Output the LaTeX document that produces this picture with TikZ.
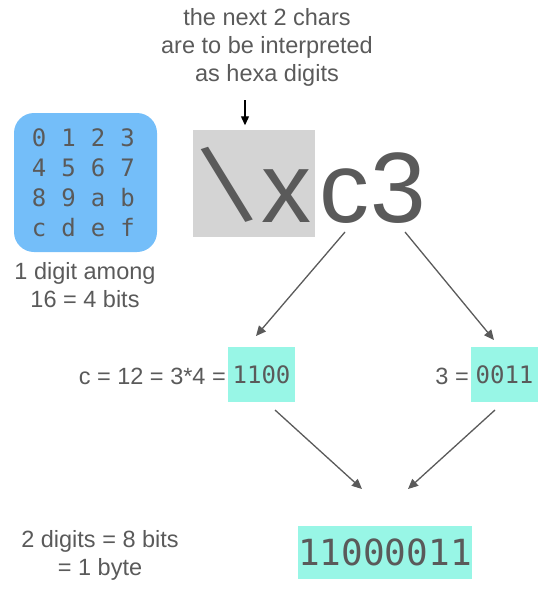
\documentclass[tikz,border=0pt]{standalone}
\usepackage{fontspec}
\setmainfont{Liberation Sans}
\newfontfamily\monof{DejaVu Sans Mono}
\usetikzlibrary{arrows.meta,positioning}
\definecolor{txt}{HTML}{5A5A5A}
\definecolor{bluebg}{HTML}{74BEF9}
\definecolor{aqua}{HTML}{98F6E6}
\definecolor{graybg}{HTML}{D4D4D4}
\tikzset{
  lbl/.style={text=txt, font=\fontsize{23.5}{28}\selectfont, align=center, inner sep=0pt},
  hexd/.style={text=txt, font=\monof\fontsize{24}{24}\selectfont, inner sep=0pt, anchor=base},
  big/.style={text=txt, font=\fontsize{100}{100}\selectfont, inner sep=0pt, anchor=base},
  bitbox/.style={fill=aqua, text=txt, inner sep=0pt, minimum height=55pt},
  arr/.style={draw=txt, line width=1.3pt, -{Triangle[width=9pt,length=10pt]}},
}
\begin{document}
\begin{tikzpicture}[x=1pt,y=-1pt]
\useasboundingbox (0,0) rectangle (552,594);
% top note
\node[lbl] (note) at (267,47) {the next 2 chars\\are to be interpreted\\as hexa digits};
\coordinate (ptop) at (245,100);
\node[inner sep=0pt] (pin) at (245,126) {};
\draw[black, line width=1.2pt, -{Triangle[width=8pt,length=9pt]}] (ptop) -- (pin);
% gray box + big text
\node[fill=graybg, minimum width=122pt, minimum height=107pt, inner sep=0pt] (gbox) at (254,183.5) {};
\node[big, anchor=center] (bs) at (227.5,185) {\rotatebox[origin=c]{18}{\scalebox{1}[1.13]{\textbackslash}}};
\node[big] (x) at (286,222) {x};
\node[big] (c) at (344,222) {c};
\node[big] (three) at (398,222) {3};
% blue hex table
\node[fill=bluebg, rounded corners=20pt, minimum width=143pt, minimum height=139pt, inner sep=0pt] (tbl) at (85.5,182.5) {};
\foreach \r/\row in {0/{0,1,2,3},1/{4,5,6,7},2/{8,9,a,b},3/{c,d,e,f}}{
  \foreach \d [count=\i from 0] in \row {
    \node[hexd] (h\r\i) at (39+29.5*\i, 146+30*\r) {\d};
  }
}
\node[lbl] (among) at (85,285) {1 digit among\\16 = 4 bits};
% middle row
\node[bitbox, minimum width=67pt] (b1) at (261.5,374.5) {\monof\fontsize{24}{24}\selectfont 1100};
\node[lbl, anchor=east] (eq1) at (226,376) {c = 12 = 3*4 =};
\node[bitbox, minimum width=67pt] (b2) at (504.5,374.5) {\monof\fontsize{24}{24}\selectfont 0011};
\node[lbl, anchor=east] (eq2) at (469,376) {3 =};
% result
\node[bitbox, minimum width=174pt, minimum height=53pt] (res) at (385,552.5) {\monof\fontsize{36}{36}\selectfont 11000011};
\node[lbl] (byte) at (100,555) {2 digits = 8 bits\\= 1 byte};
% arrows
\coordinate (s1) at (345,232); \coordinate (e1) at (256,336);
\coordinate (s2) at (405,232); \coordinate (e2) at (494,340);
\coordinate (s3) at (275,410); \coordinate (e3) at (362,489);
\coordinate (s4) at (495,410); \coordinate (e4) at (408,489);
\draw[arr] (s1) -- (e1);
\draw[arr] (s2) -- (e2);
\draw[arr] (s3) -- (e3);
\draw[arr] (s4) -- (e4);
\end{tikzpicture}
\end{document}
